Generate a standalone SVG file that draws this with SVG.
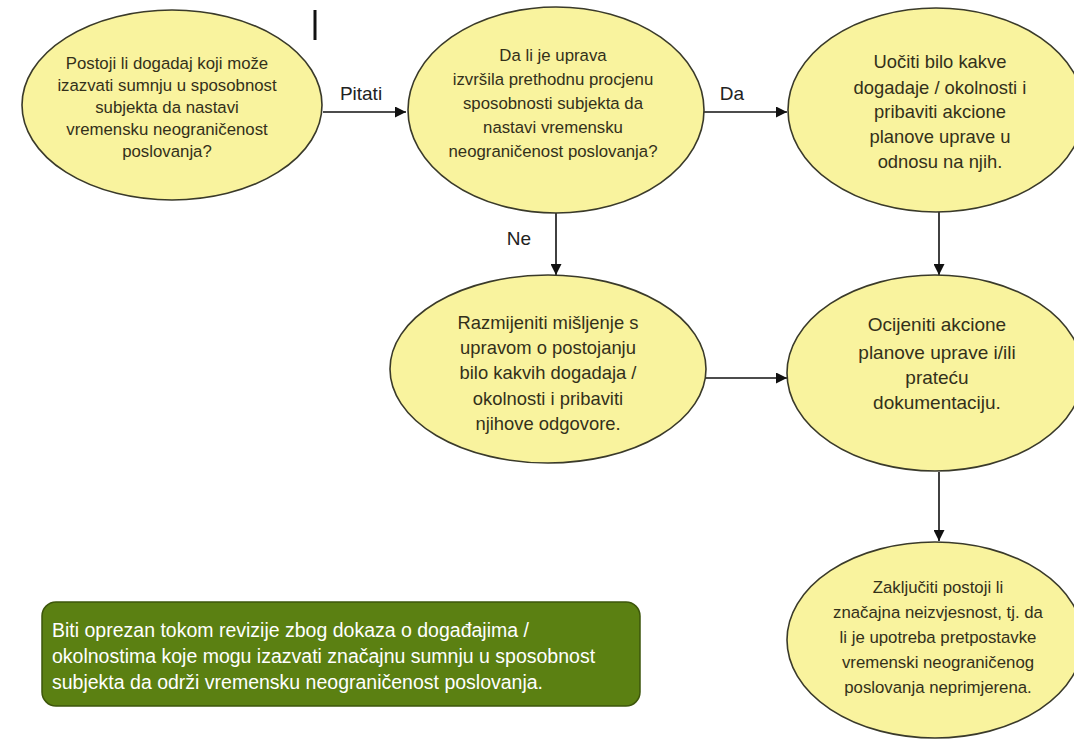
<svg xmlns="http://www.w3.org/2000/svg" width="1074" height="744" viewBox="0 0 1074 744">
<defs>
<style>
.node{fill:#f9f39e;stroke:#3a3a2a;stroke-width:1.6}
.t{font-family:"Liberation Sans","DejaVu Sans",sans-serif;font-size:16.8px;fill:#33301a;text-anchor:middle}
.t2{font-family:"Liberation Sans","DejaVu Sans",sans-serif;font-size:18.4px;fill:#33301a;text-anchor:middle}
.lbl{font-family:"Liberation Sans","DejaVu Sans",sans-serif;font-size:19px;fill:#222;text-anchor:middle}
.edge{stroke:#111;stroke-width:1.6;fill:none;marker-end:url(#arr)}
.note{fill:#5b8012;stroke:#3d560b;stroke-width:1.5}
.nt{font-family:"Liberation Sans","DejaVu Sans",sans-serif;font-size:19.5px;fill:#ffffff}
</style>
<marker id="arr" viewBox="0 0 10 10" refX="10" refY="5" markerWidth="11" markerHeight="11" markerUnits="userSpaceOnUse" orient="auto">
<path d="M0,0 L10,5 L0,10 z" fill="#111"/>
</marker>
</defs>
<rect width="1074" height="744" fill="#ffffff"/>
<line x1="315" y1="10" x2="315" y2="40" stroke="#111" stroke-width="3"/>
<g id="connectors">
<line class="edge" x1="323" y1="112" x2="406" y2="112"/>
<text class="lbl" x="361" y="100">Pitati</text>
<line class="edge" x1="704" y1="112" x2="787" y2="112"/>
<text class="lbl" x="732" y="100">Da</text>
<line class="edge" x1="556" y1="213" x2="556" y2="275"/>
<text class="lbl" x="519" y="245">Ne</text>
<line class="edge" x1="939" y1="212" x2="939" y2="275"/>
<line class="edge" x1="705" y1="378" x2="787" y2="378"/>
<line class="edge" x1="939" y1="472" x2="939" y2="541"/>
</g>
<g id="n1">
<ellipse class="node" cx="172" cy="105" rx="150" ry="95"/>
<text class="t" x="167" y="69">Postoji li dogadaj koji može</text>
<text class="t" x="167" y="91">izazvati sumnju u sposobnost</text>
<text class="t" x="167" y="113">subjekta da nastavi</text>
<text class="t" x="167" y="135">vremensku neograničenost</text>
<text class="t" x="167" y="157">poslovanja?</text>
</g>
<g id="n2">
<ellipse class="node" cx="556" cy="110" rx="148" ry="103"/>
<text class="t" x="553" y="61">Da li je uprava</text>
<text class="t" x="553" y="85">izvršila prethodnu procjenu</text>
<text class="t" x="553" y="109">sposobnosti subjekta da</text>
<text class="t" x="553" y="133">nastavi vremensku</text>
<text class="t" x="553" y="157">neograničenost poslovanja?</text>
</g>
<g id="n3">
<ellipse class="node" cx="936" cy="110" rx="148" ry="102"/>
<text class="t2" x="940" y="68">Uočiti bilo kakve</text>
<text class="t2" x="940" y="94">dogadaje / okolnosti i</text>
<text class="t2" x="940" y="118">pribaviti akcione</text>
<text class="t2" x="940" y="143">planove uprave u</text>
<text class="t2" x="940" y="168">odnosu na njih.</text>
</g>
<g id="n4">
<ellipse class="node" cx="548" cy="369" rx="158" ry="94"/>
<text class="t2" x="548" y="329">Razmijeniti mišljenje s</text>
<text class="t2" x="548" y="354">upravom o postojanju</text>
<text class="t2" x="548" y="379">bilo kakvih dogadaja /</text>
<text class="t2" x="548" y="405">okolnosti i pribaviti</text>
<text class="t2" x="548" y="430">njihove odgovore.</text>
</g>
<g id="n5">
<ellipse class="node" cx="935" cy="373" rx="148" ry="98"/>
<text class="t2" x="937" y="331" style="font-size:19px">Ocijeniti akcione</text>
<text class="t2" x="937" y="359" style="font-size:19px">planove uprave i/ili</text>
<text class="t2" x="937" y="384" style="font-size:19px">prateću</text>
<text class="t2" x="937" y="409" style="font-size:19px">dokumentaciju.</text>
</g>
<g id="n6">
<ellipse class="node" cx="935" cy="640" rx="148" ry="98"/>
<text class="t" x="938" y="593">Zaključiti postoji li</text>
<text class="t" x="938" y="618">značajna neizvjesnost, tj. da</text>
<text class="t" x="938" y="643">li je upotreba pretpostavke</text>
<text class="t" x="938" y="668">vremenski neograničenog</text>
<text class="t" x="938" y="693">poslovanja neprimjerena.</text>
</g>
<g id="note">
<rect class="note" x="42" y="602" width="598" height="104" rx="14" ry="14"/>
<text class="nt" x="52" y="637">Biti oprezan tokom revizije zbog dokaza o događajima /</text>
<text class="nt" x="52" y="663">okolnostima koje mogu izazvati značajnu sumnju u sposobnost</text>
<text class="nt" x="52" y="689">subjekta da održi vremensku neograničenost poslovanja.</text>
</g>
</svg>
